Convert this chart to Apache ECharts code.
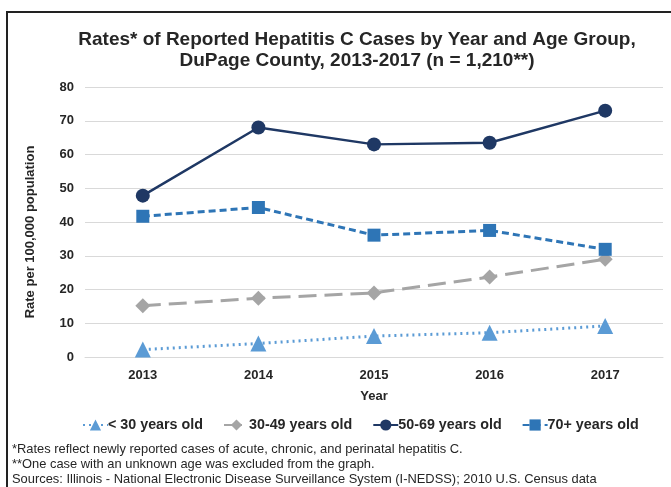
<!DOCTYPE html>
<html lang="en">
<head>
    <meta charset="UTF-8">
    <title>Hepatitis C Rates</title>
    <script type="text/javascript" src="https://cdn.jsdelivr.net/npm/echarts@6/dist/echarts.min.js"></script>
    <style>
        body { margin: 0; background: #fff; }
        #frame { position: absolute; left: 6px; top: 11px; width: 665px; height: 476px;
                 border-left: 2px solid #222; border-top: 2px solid #222; }
        #main { position: absolute; left: 0; top: 0; width: 671px; height: 487px; }
    </style>
</head>
<body>
<div id="frame"></div>
<div id="main"></div>
<script>
    var years = ['2013', '2014', '2015', '2016', '2017'];
    var seriesNames = ['< 30 years old', '30-49 years old', '50-69 years old', '70+ years old'];
    var under30 = [2.2, 4.0, 6.2, 7.2, 9.2];
    var age30to49 = [15.2, 17.4, 19.0, 23.7, 29.0];
    var age50to69 = [47.8, 68.0, 63.0, 63.5, 73.0];
    var age70plus = [41.7, 44.3, 36.1, 37.5, 31.9];
    var footnotes = [
        '*Rates reflect newly reported cases of acute, chronic, and perinatal hepatitis C.',
        '**One case with an unknown age was excluded from the graph.',
        'Sources: Illinois - National Electronic Disease Surveillance System (I-NEDSS); 2010 U.S. Census data'
    ];

    var font = 'Liberation Sans, Arial, sans-serif';
    var myChart = echarts.init(document.getElementById('main'));

    function makeSeries(name, data, color, type, width, symbol, size) {
        return {
            name: name,
            type: 'line',
            data: data,
            symbol: symbol,
            symbolSize: size,
            itemStyle: { color: color },
            lineStyle: { color: color, width: width, type: type },
            z: 3
        };
    }

    var notes = footnotes.map(function (t, i) {
        return {
            type: 'text',
            left: 12,
            top: 443 + i * 15,
            style: { text: t, fontFamily: font, fontSize: 12.9, fill: '#262626' }
        };
    });
    // y axis title drawn by hand: it sits a bit lower than the plot centre
    notes.push({
        type: 'text',
        x: 30,
        y: 232,
        rotation: Math.PI / 2,
        style: {
            text: 'Rate per 100,000 population',
            fontFamily: font, fontSize: 13, fontWeight: 'bold', fill: '#262626',
            align: 'center', verticalAlign: 'middle'
        }
    });

    var option = {
        animation: false,
        backgroundColor: 'transparent',
        title: {
            text: 'Rates* of Reported Hepatitis C Cases by Year and Age Group,\nDuPage County, 2013-2017 (n = 1,210**)',
            left: 352,
            top: 24,
            textAlign: 'center',
            textStyle: {
                fontFamily: font,
                fontSize: 19,
                fontWeight: 'bold',
                color: '#262626',
                lineHeight: 21
            }
        },
        legend: {
            data: seriesNames,
            left: 77,
            top: 413,
            itemWidth: 25,
            itemHeight: 14,
            itemGap: 20,
            textStyle: { fontFamily: font, fontSize: 14.3, fontWeight: 'bold', color: '#262626', padding: [0, 0, 0, -5] }
        },
        grid: { left: 85, right: 8, top: 87, bottom: 130 },
        xAxis: {
            type: 'category',
            data: years,
            name: 'Year',
            nameLocation: 'middle',
            nameGap: 33,
            nameTextStyle: { fontFamily: font, fontSize: 13, fontWeight: 'bold', color: '#262626' },
            axisLine: { show: true, lineStyle: { color: '#d9d9d9' } },
            axisTick: { show: false },
            axisLabel: { fontFamily: font, fontSize: 13, fontWeight: 'bold', color: '#262626', margin: 12 }
        },
        yAxis: {
            type: 'value',
            min: 0,
            max: 80,
            interval: 10,
            axisLine: { show: false },
            axisTick: { show: false },
            axisLabel: { fontFamily: font, fontSize: 13, fontWeight: 'bold', color: '#262626', margin: 11 },
            splitLine: { lineStyle: { color: '#d9d9d9', width: 1 } }
        },
        series: [
            makeSeries(seriesNames[0], under30, '#5b9bd5', [2, 4], 3, 'triangle', 16),
            makeSeries(seriesNames[1], age30to49, '#a5a5a5', [18, 8], 3, 'diamond', 15),
            makeSeries(seriesNames[2], age50to69, '#1f3864', 'solid', 2.5, 'circle', 14),
            makeSeries(seriesNames[3], age70plus, '#2e75b6', [7, 4], 3, 'rect', 13)
        ],
        graphic: notes
    };
    myChart.setOption(option);
</script>
</body>
</html>
